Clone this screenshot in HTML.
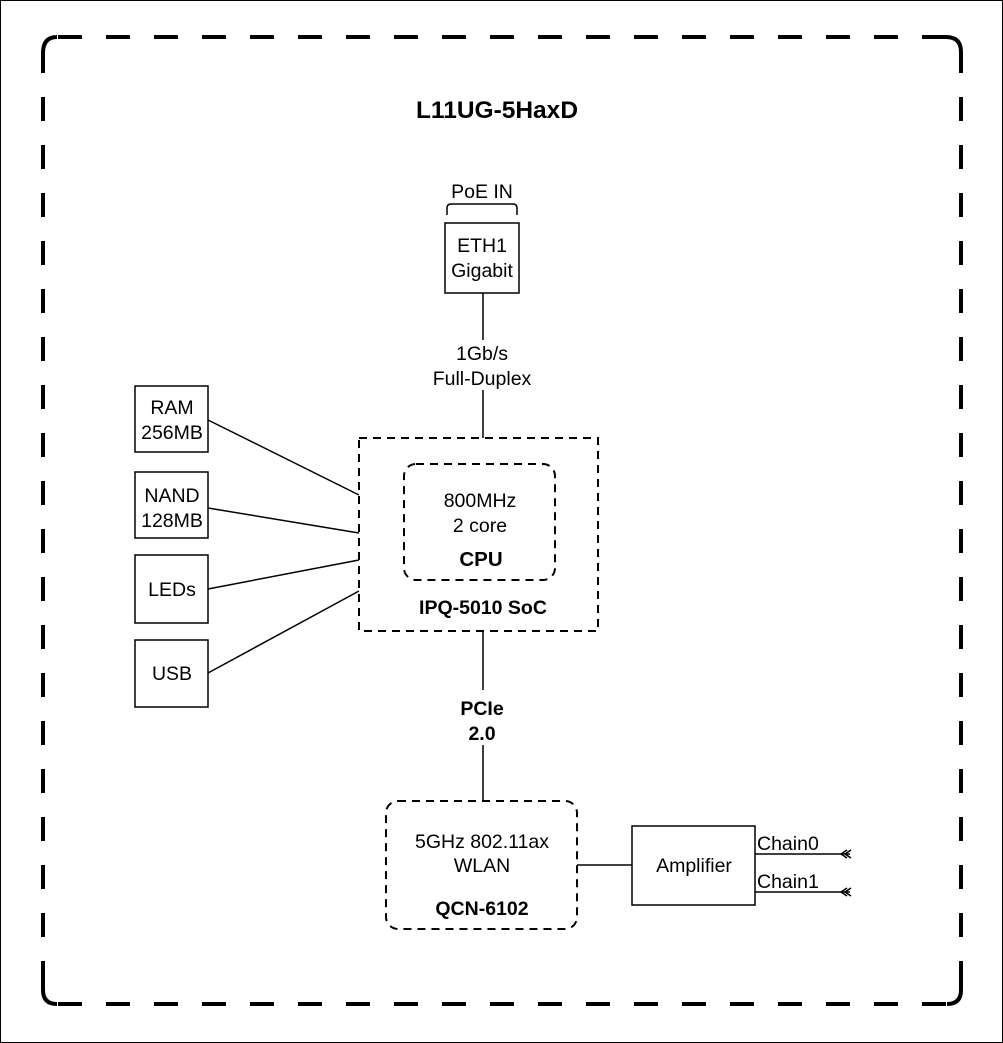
<!DOCTYPE html>
<html><head><meta charset="utf-8"><style>
html,body{margin:0;padding:0;background:#fff;}
svg{display:block;}
text{font-family:"Liberation Sans",Arial,sans-serif;font-size:19.5px;fill:#000;}
.b{font-weight:bold;}
</style></head><body>
<svg width="1003" height="1043" viewBox="0 0 1003 1043" xmlns="http://www.w3.org/2000/svg">
<rect x="0.5" y="0.5" width="1002" height="1042" fill="#fff" stroke="#000" stroke-width="1"/>
<g fill="none" stroke="#000" stroke-width="4">
<path d="M43,73 V53 Q43,37 57,37 H56"/>
<path d="M946,37 Q961,37 961,52 V73"/>
<path d="M43,967 V990 Q43,1004 57,1004"/>
<path d="M961,967 V990 Q961,1004 947,1004"/>
<line x1="58" y1="37" x2="946" y2="37" stroke-dasharray="24,24"/>
<line x1="58" y1="1004" x2="946" y2="1004" stroke-dasharray="24,24"/>
<line x1="43" y1="97" x2="43" y2="967" stroke-dasharray="24,24"/>
<line x1="961" y1="97" x2="961" y2="967" stroke-dasharray="24,24"/>
</g>
<text x="497" y="118" text-anchor="middle" class="b" style="font-size:24.5px">L11UG-5HaxD</text>
<text x="482" y="198" text-anchor="middle">PoE IN</text>
<path d="M447,215 V208 Q447,204 451,204 H513 Q517,204 517,208 V215" fill="none" stroke="#000" stroke-width="1.5"/>
<rect x="445" y="223" width="74" height="70" fill="#fff" stroke="#000" stroke-width="1.5"/>
<text x="482" y="252" text-anchor="middle">ETH1</text>
<text x="482" y="277" text-anchor="middle">Gigabit</text>
<line x1="483" y1="293" x2="483" y2="340" stroke="#000" stroke-width="1.5"/>
<text x="482" y="360" text-anchor="middle">1Gb/s</text>
<text x="482" y="385" text-anchor="middle">Full-Duplex</text>
<line x1="483" y1="390" x2="483" y2="438" stroke="#000" stroke-width="1.5"/>
<rect x="359" y="438" width="239" height="193" fill="none" stroke="#000" stroke-width="2" stroke-dasharray="8,6"/>
<rect x="404" y="464" width="151" height="116" rx="12" fill="none" stroke="#000" stroke-width="2" stroke-dasharray="8,6"/>
<text x="480" y="507" text-anchor="middle">800MHz</text>
<text x="480" y="532" text-anchor="middle">2 core</text>
<text x="481" y="566" text-anchor="middle" class="b" style="font-size:20.5px">CPU</text>
<text x="483" y="614" text-anchor="middle" class="b">IPQ-5010 SoC</text>
<g fill="#fff" stroke="#000" stroke-width="1.5">
<rect x="135" y="386" width="73" height="66"/>
<rect x="135" y="472" width="73" height="66"/>
<rect x="135" y="555" width="73" height="68"/>
<rect x="135" y="640" width="73" height="67"/>
</g>
<text x="172" y="414" text-anchor="middle">RAM</text>
<text x="172" y="439" text-anchor="middle">256MB</text>
<text x="172" y="502" text-anchor="middle">NAND</text>
<text x="172" y="527" text-anchor="middle">128MB</text>
<text x="172" y="596" text-anchor="middle">LEDs</text>
<text x="172" y="680" text-anchor="middle">USB</text>
<g stroke="#000" stroke-width="1.5">
<line x1="208" y1="420" x2="359" y2="495"/>
<line x1="208" y1="508" x2="359" y2="533"/>
<line x1="208" y1="589" x2="359" y2="560"/>
<line x1="208" y1="673" x2="359" y2="591"/>
<line x1="483" y1="631" x2="483" y2="690"/>
<line x1="483" y1="745" x2="483" y2="801"/>
<line x1="577" y1="865" x2="632" y2="865"/>
<line x1="755" y1="854" x2="850" y2="854"/>
<line x1="755" y1="892" x2="850" y2="892"/>
</g>
<text x="482" y="715" text-anchor="middle" class="b">PCIe</text>
<text x="482" y="740" text-anchor="middle" class="b">2.0</text>
<rect x="386" y="801" width="191" height="128" rx="12" fill="none" stroke="#000" stroke-width="2" stroke-dasharray="8,6"/>
<text x="482" y="848" text-anchor="middle">5GHz 802.11ax</text>
<text x="482" y="872" text-anchor="middle">WLAN</text>
<text x="482" y="915" text-anchor="middle" class="b">QCN-6102</text>
<rect x="632" y="826" width="123" height="79" fill="#fff" stroke="#000" stroke-width="1.5"/>
<text x="694" y="872" text-anchor="middle">Amplifier</text>
<text x="757" y="850">Chain0</text>
<text x="757" y="888">Chain1</text>
<g fill="none" stroke="#000" stroke-width="1.5">
<path d="M851,850 L845,854 L851,858 M847,850 L841,854 L847,858"/>
<path d="M851,888 L845,892 L851,896 M847,888 L841,892 L847,896"/>
</g>
</svg>
</body></html>
